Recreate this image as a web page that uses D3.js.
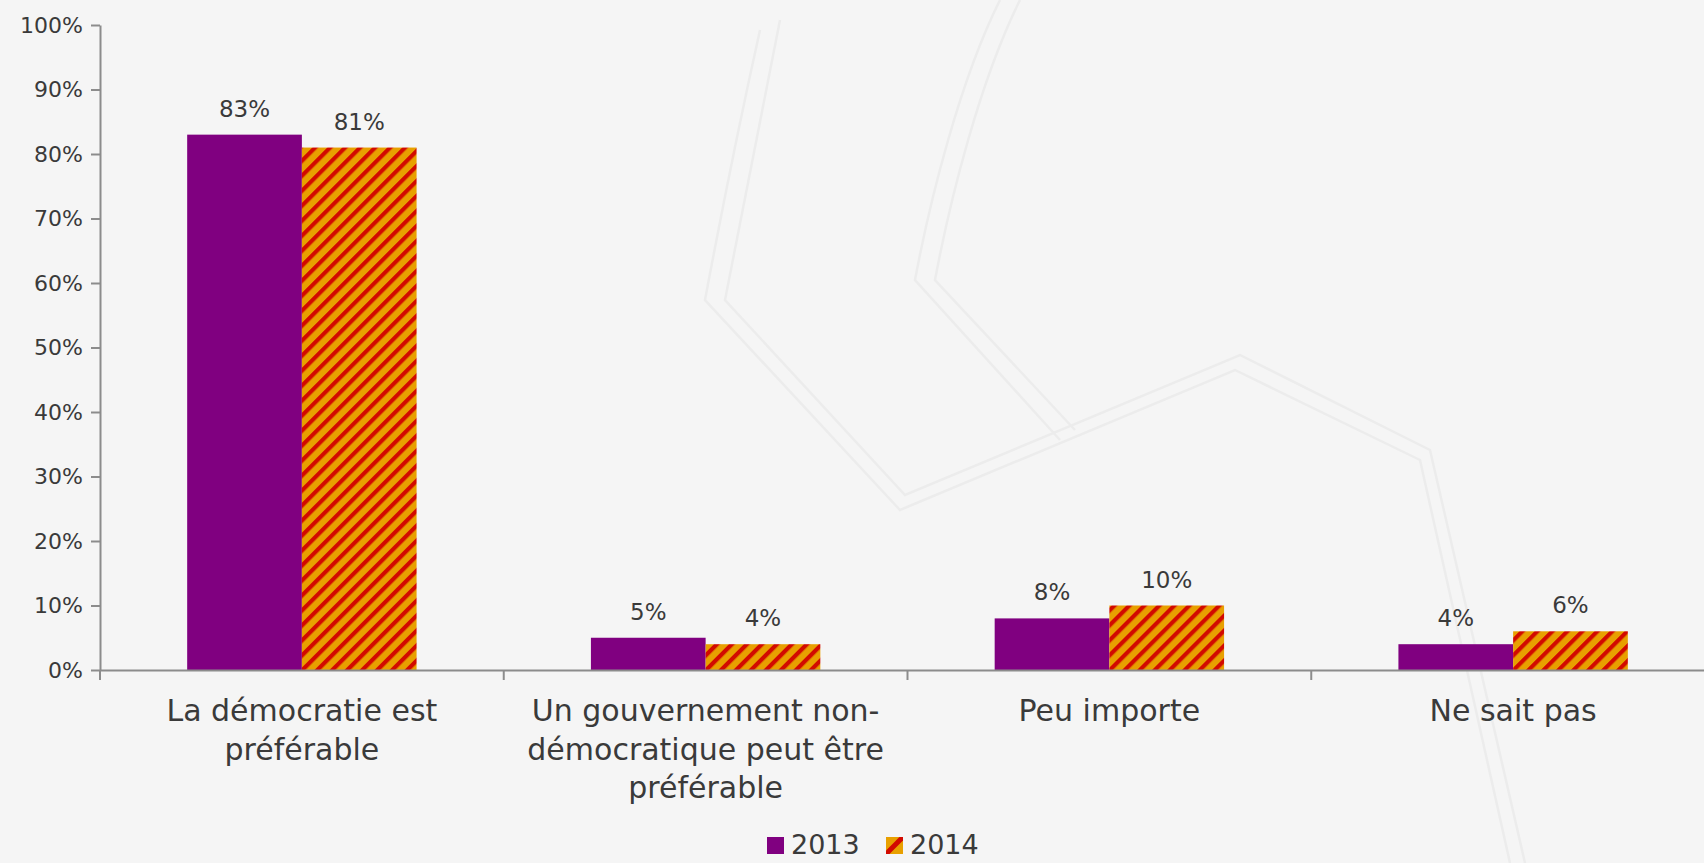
<!DOCTYPE html>
<html>
<head>
<meta charset="utf-8">
<script src="https://cdn.jsdelivr.net/npm/d3@7"></script>
<style>
  html, body { margin: 0; padding: 0; background: #f5f5f5; overflow: hidden; }
  svg { display: block; }
  text { font-family: "DejaVu Sans", sans-serif; fill: #3a3a3a; }
</style>
</head>
<body>
<svg id="chart" width="1704" height="863"></svg>
<script>
// ---- data ----
const categories = [
  "La démocratie est préférable",
  "Un gouvernement non-démocratique peut être préférable",
  "Peu importe",
  "Ne sait pas"
];
const categoryLines = [
  ["La démocratie est", "préférable"],
  ["Un gouvernement non-", "démocratique peut être", "préférable"],
  ["Peu importe"],
  ["Ne sait pas"]
];
const seriesNames = ["2013", "2014"];
const values2013 = [0.83, 0.05, 0.08, 0.04];
const values2014 = [0.81, 0.04, 0.10, 0.06];
const yTicks = [0, 0.1, 0.2, 0.3, 0.4, 0.5, 0.6, 0.7, 0.8, 0.9, 1.0];

const seriesValues = { "2013": values2013, "2014": values2014 };

const W = 1704, H = 863;
const svg = d3.select("#chart");

// background
svg.append("rect").attr("width", W).attr("height", H).attr("fill", "#f5f5f5");

// faint watermark decoration
const wm = svg.append("g").attr("fill", "none").attr("stroke", "#ececec").attr("stroke-width", 2.5);
wm.append("path").attr("d", "M760,30 C740,120 720,220 705,300 L900,510 L1235,370 L1420,460 L1510,863");
wm.append("path").attr("d", "M780,20 C760,120 740,220 725,300 L905,495 L1240,355 L1430,450 L1525,863");
wm.append("path").attr("d", "M1000,0 C960,80 930,200 915,280 L1060,440");
wm.append("path").attr("d", "M1020,0 C980,80 950,200 935,280 L1075,430");

const defs = svg.append("defs");
const pat = defs.append("pattern")
  .attr("id", "stripes")
  .attr("patternUnits", "userSpaceOnUse")
  .attr("width", 10.6).attr("height", 10.6)
  .attr("patternTransform", "rotate(45)");
pat.append("rect").attr("width", 10.6).attr("height", 10.6).attr("fill", "#E8A000");
pat.append("rect").attr("x", 0).attr("width", 4.2).attr("height", 10.6).attr("fill", "#D20A00");

const colors = { "2013": "#800080", "2014": "url(#stripes)" };

// scales
const plotLeft = 100, plotRight = 1715, plotTop = 25, plotBottom = 670;
const x0 = d3.scaleBand().domain(categories).range([plotLeft, plotRight]).paddingInner(0).paddingOuter(0);
const x1 = d3.scaleBand().domain(seriesNames).range([0, x0.bandwidth()]).paddingInner(0).paddingOuter(0.76);
const y = d3.scaleLinear().domain([0, 1]).range([plotBottom, plotTop]);

// bars
const groups = svg.append("g").selectAll("g")
  .data(categories)
  .join("g")
  .attr("transform", d => `translate(${x0(d)},0)`);

groups.selectAll("rect")
  .data((d, i) => seriesNames.map(s => ({ s, v: seriesValues[s][i] })))
  .join("rect")
  .attr("x", d => x1(d.s))
  .attr("y", d => y(d.v))
  .attr("width", x1.bandwidth())
  .attr("height", d => y(0) - y(d.v))
  .attr("fill", d => colors[d.s]);

// data labels
groups.selectAll("text.val")
  .data((d, i) => seriesNames.map(s => ({ s, v: seriesValues[s][i] })))
  .join("text")
  .attr("class", "val")
  .attr("x", d => x1(d.s) + x1.bandwidth() / 2)
  .attr("y", d => y(d.v) - 18)
  .attr("text-anchor", "middle")
  .style("font-size", "23px")
  .text(d => d3.format(".0%")(d.v));

// y axis
const yAxis = d3.axisLeft(y).tickValues(yTicks).tickFormat(d3.format(".0%")).tickSize(9).tickSizeOuter(0).tickPadding(8);
const gy = svg.append("g").attr("transform", `translate(${plotLeft},0)`).call(yAxis);
gy.select(".domain").attr("stroke", "#8c8c8c").attr("stroke-width", 2);
gy.selectAll(".tick line").attr("stroke", "#8c8c8c").attr("stroke-width", 2);
gy.selectAll(".tick text").style("font-size", "22px").style("font-family", "DejaVu Sans").attr("fill", "#3a3a3a");

// x axis
const xAxis = d3.axisBottom(x0).tickSize(0).tickFormat("").tickSizeOuter(0);
const gx = svg.append("g").attr("transform", `translate(0,${plotBottom})`).call(xAxis);
gx.select(".domain").attr("stroke", "#8c8c8c").attr("stroke-width", 2);
// boundary ticks between categories
const boundaries = categories.map(c => x0(c)).concat([x0.range()[1]]);
gx.selectAll("line.bound")
  .data(boundaries)
  .join("line")
  .attr("class", "bound")
  .attr("x1", d => d).attr("x2", d => d)
  .attr("y1", 0).attr("y2", 10)
  .attr("stroke", "#8c8c8c").attr("stroke-width", 2);

// category labels
const catG = svg.append("g");
categories.forEach((c, i) => {
  const t = catG.append("text")
    .attr("x", x0(c) + x0.bandwidth() / 2)
    .attr("y", 721)
    .attr("text-anchor", "middle")
    .style("font-size", "30px");
  categoryLines[i].forEach((line, j) => {
    t.append("tspan")
      .attr("x", x0(c) + x0.bandwidth() / 2)
      .attr("dy", j === 0 ? 0 : 38.5)
      .text(line);
  });
});

// legend
const lg = svg.append("g");
const legendItems = [
  { s: "2013", x: 767 },
  { s: "2014", x: 886 }
];
const sqY = 837, sq = 17;
defs.append("clipPath").attr("id", "lgclip")
  .append("rect").attr("x", 886).attr("y", sqY).attr("width", sq).attr("height", sq);
legendItems.forEach(item => {
  if (item.s === "2013") {
    lg.append("rect").attr("x", item.x).attr("y", sqY).attr("width", sq).attr("height", sq).attr("fill", "#800080");
  } else {
    lg.append("rect").attr("x", item.x).attr("y", sqY).attr("width", sq).attr("height", sq).attr("fill", "#E8A000");
    lg.append("line").attr("x1", item.x - 2).attr("y1", sqY + sq + 2).attr("x2", item.x + sq + 2).attr("y2", sqY - 2)
      .attr("stroke", "#D20A00").attr("stroke-width", 5).attr("clip-path", "url(#lgclip)");
  }
  lg.append("text").attr("x", item.x + 24).attr("y", 854)
    .style("font-size", "27px").text(item.s);
});
</script>
</body>
</html>
